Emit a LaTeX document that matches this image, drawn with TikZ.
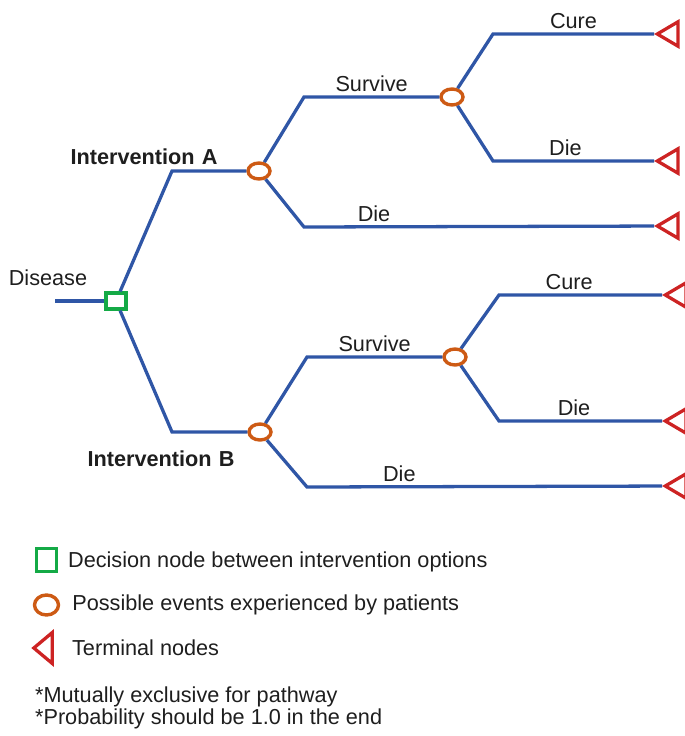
\documentclass[tikz,border=0pt]{standalone}
\usepackage{fontspec}
\setmainfont{Liberation Sans}
\usepackage{xcolor}
\usepackage{tikz}
\usetikzlibrary{shapes.geometric,positioning}

\definecolor{branchblue}{RGB}{47,86,166}
\definecolor{decgreen}{RGB}{20,170,70}
\definecolor{evorange}{RGB}{205,90,20}
\definecolor{termred}{RGB}{205,35,35}
\definecolor{txtgray}{RGB}{30,30,30}

\begin{document}
\begin{tikzpicture}[x=0.03cm,y=-0.03cm,
        branch/.style={line width=2.8pt,draw=branchblue},
        decision/.style={draw=decgreen,line width=2.9pt,fill=white,minimum width=0.6cm,minimum height=0.48cm,inner sep=0pt},
        chance/.style={ellipse,draw=evorange,line width=2.9pt,fill=white,minimum width=0.66cm,minimum height=0.48cm,inner sep=0pt},
        terminal/.style={isosceles triangle,isosceles triangle apex angle=61,shape border rotate=180,draw=termred,line width=2.8pt,minimum height=0.62cm,inner sep=0pt},
        lbl/.style={font=\fontsize{18.5}{21}\selectfont,text=txtgray},
        heading/.style={lbl,font=\fontsize{18.5}{21}\selectfont\bfseries}]
        \useasboundingbox (0,0) rectangle (685,736);
        % tree nodes
        \node[decision] (dec) at (116,301) {};
        \coordinate (dstart) at (55,301);
        \node[chance] (chA) at (259,171) {};
        \node[chance] (chAs) at (452,97) {};
        \node[chance] (chB) at (260,432) {};
        \node[chance] (chBs) at (455,357) {};
        \node[terminal] (tAc) at (671,34) {};
        \node[terminal] (tAd) at (671,161) {};
        \node[terminal] (tAx) at (671,226) {};
        \node[terminal] (tBc) at (679,295) {};
        \node[terminal] (tBd) at (679,421) {};
        \node[terminal] (tBx) at (679,486) {};
        % elbows
        \coordinate (a1) at (172,171);
        \coordinate (a2) at (304,97);
        \coordinate (a3) at (304,227);
        \coordinate (a4) at (493,34);
        \coordinate (a5) at (493,161);
        \coordinate (b1) at (172,432);
        \coordinate (b2) at (307,357);
        \coordinate (b3) at (307,487);
        \coordinate (b4) at (499,295);
        \coordinate (b5) at (499,421);
        % branches
        \draw[branch] (dstart) -- (dec);
        \draw[branch] (dec) -- (a1) -- (chA);
        \draw[branch] (dec) -- (b1) -- (chB);
        \draw[branch] (chA) -- (a2) -- node[lbl,above,pos=0.5] {Survive} (chAs);
        \draw[branch] (chA) -- (a3) -- node[lbl,above,pos=0.2] {Die} (tAx);
        \draw[branch] (chAs) -- (a4) -- node[lbl,above,pos=0.5] {Cure} (tAc);
        \draw[branch] (chAs) -- (a5) -- node[lbl,above,pos=0.45] {Die} (tAd);
        \draw[branch] (chB) -- (b2) -- node[lbl,above,pos=0.5] {Survive} (chBs);
        \draw[branch] (chB) -- (b3) -- node[lbl,above,pos=0.26] {Die} (tBx);
        \draw[branch] (chBs) -- (b4) -- node[lbl,above,pos=0.43] {Cure} (tBc);
        \draw[branch] (chBs) -- (b5) -- node[lbl,above,pos=0.46] {Die} (tBd);
        \node[lbl] (disease) at (48,278) {Disease};
        \node[heading] (intA) at (144,157) {Intervention\,\,A};
        \node[heading] (intB) at (161,459) {Intervention\,\,B};
        % legend
        \node[decision,minimum height=0.68cm] (legdec) at (46.5,560) {};
        \node[lbl,anchor=west] (legdectxt) at (64,562) {Decision node between intervention options};
        \node[chance,minimum width=0.72cm,minimum height=0.6cm] (legch) at (46.5,605) {};
        \node[lbl,right=0.24cm of legch] (legchtxt) {Possible events experienced by patients};
        \node[terminal,isosceles triangle apex angle=80,minimum height=0.55cm] (legterm) at (45,648) {};
        \node[lbl,anchor=west] (legtermtxt) at (68,648) {Terminal nodes};
        \node[lbl,anchor=west] (note1) at (31,697) {*Mutually exclusive for pathway};
        \node[lbl,anchor=west] (note2) at (31,719) {*Probability should be 1.0 in the end};
\end{tikzpicture}
\end{document}
